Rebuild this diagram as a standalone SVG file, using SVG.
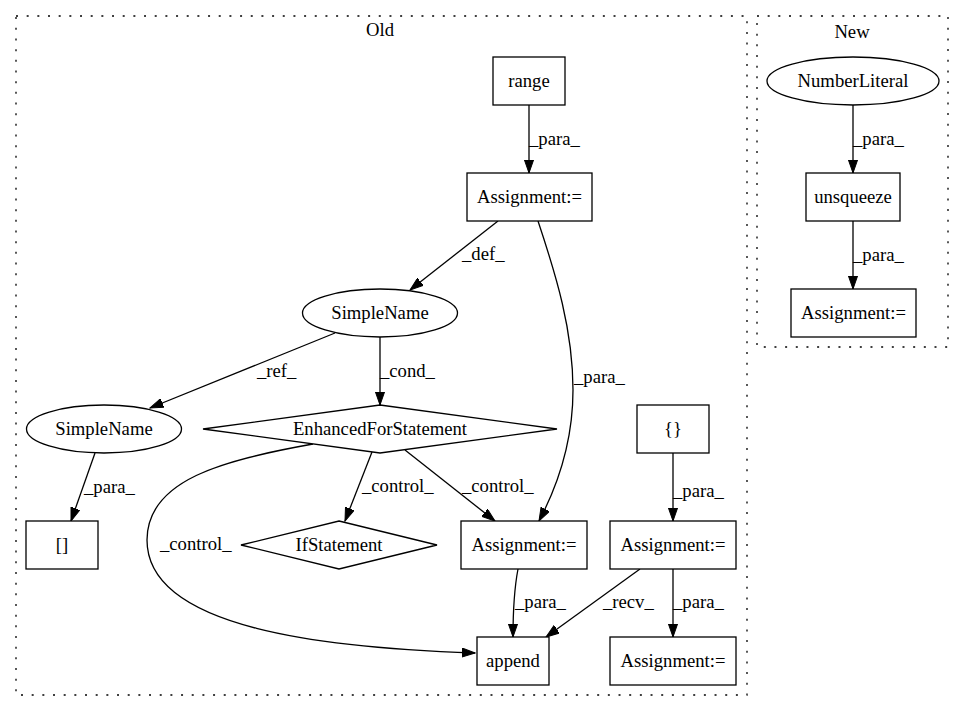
<svg xmlns="http://www.w3.org/2000/svg" width="965" height="712" viewBox="0 0 965 712">
<style>
text { font-family: "Liberation Serif", "Times New Roman", serif; font-size: 18.67px; fill: #000; }
.c { text-anchor: middle; }
.n { fill: #fff; stroke: #000; stroke-width: 1.3; }
.e { fill: none; stroke: #000; stroke-width: 1.3; marker-end: url(#ah); }
.cl { fill: none; stroke: #000; stroke-width: 1.3; stroke-dasharray: 2 8.67; }
</style>
<defs>
<marker id="ah" viewBox="0 0 14 10" refX="13.3" refY="5" markerWidth="14" markerHeight="10" markerUnits="userSpaceOnUse" orient="auto">
<path d="M0,0.33 L13.3,5 L0,9.67 z" fill="#000" stroke="#000" stroke-width="1"/>
</marker>
</defs>
<rect width="965" height="712" fill="#fff"/>
<g id="cluster_old">
<rect class="cl" x="16" y="16" width="731" height="679"/>
<text class="c" x="380" y="36">Old</text>
</g>
<g id="cluster_new">
<rect class="cl" x="757" y="16" width="191" height="331"/>
<text class="c" x="852" y="38">New</text>
</g>
<g id="edges">
<path class="e" d="M529,105 L529,173"/>
<text x="529" y="145">_para_</text>
<path class="e" d="M498,221 L410,290"/>
<text x="462" y="260">_def_</text>
<path class="e" d="M538,221 C556,275 573,330 573,390 C573,440 558,485 539,521"/>
<text x="574" y="383">_para_</text>
<path class="e" d="M335,333 L150,408"/>
<text x="257" y="377">_ref_</text>
<path class="e" d="M380,337 L380,405"/>
<text x="380" y="377">_cond_</text>
<path class="e" d="M95,453 L71,521"/>
<text x="84" y="493">_para_</text>
<path class="e" d="M372,452 L345,521"/>
<text x="362" y="492">_control_</text>
<path class="e" d="M405,450 L495,521"/>
<text x="462" y="492">_control_</text>
<path class="e" d="M313,444 C223,460 147,480 147,540 C147,630 330,648 475,653"/>
<text x="160" y="550">_control_</text>
<path class="e" d="M673,453 L673,521"/>
<text x="673" y="497">_para_</text>
<path class="e" d="M518,569 C514,590 513,615 513,637"/>
<text x="515" y="608">_para_</text>
<path class="e" d="M640,569 L546,637"/>
<text x="603" y="608">_recv_</text>
<path class="e" d="M673,569 L673,637"/>
<text x="673" y="608">_para_</text>
<path class="e" d="M853,105 L853,173"/>
<text x="853" y="145">_para_</text>
<path class="e" d="M853,221 L853,289"/>
<text x="853" y="261">_para_</text>
</g>
<g id="range"><rect class="n" x="493" y="57" width="72" height="48"/><text class="c" x="529" y="87">range</text></g>
<g id="assign_top"><rect class="n" x="467" y="173" width="125" height="48"/><text class="c" x="529.5" y="203">Assignment:=</text></g>
<g id="simplename_top"><ellipse class="n" cx="380" cy="313" rx="77.5" ry="24"/><text class="c" x="380" y="319">SimpleName</text></g>
<g id="simplename_left"><ellipse class="n" cx="104" cy="429" rx="77.5" ry="24"/><text class="c" x="104" y="435">SimpleName</text></g>
<g id="enhanced_for"><polygon class="n" points="380,405 557,429 380,453 203,429"/><text class="c" x="380" y="435">EnhancedForStatement</text></g>
<g id="index"><rect class="n" x="26" y="521" width="72" height="48"/><text class="c" x="62" y="551">[]</text></g>
<g id="if_statement"><polygon class="n" points="339,521 437,545 339,569 241,545"/><text class="c" x="339" y="551">IfStatement</text></g>
<g id="assign_mid"><rect class="n" x="461" y="521" width="126" height="48"/><text class="c" x="524" y="551">Assignment:=</text></g>
<g id="braces"><rect class="n" x="637" y="405" width="72" height="48"/><text class="c" x="673" y="435">{}</text></g>
<g id="assign_right"><rect class="n" x="610" y="521" width="126" height="48"/><text class="c" x="673" y="551">Assignment:=</text></g>
<g id="append"><rect class="n" x="477" y="637" width="72" height="48"/><text class="c" x="513" y="667">append</text></g>
<g id="assign_bottom"><rect class="n" x="610" y="637" width="126" height="48"/><text class="c" x="673" y="667">Assignment:=</text></g>
<g id="number_literal"><ellipse class="n" cx="853" cy="81" rx="86" ry="24"/><text class="c" x="853" y="87">NumberLiteral</text></g>
<g id="unsqueeze"><rect class="n" x="806" y="173" width="94" height="48"/><text class="c" x="853" y="203">unsqueeze</text></g>
<g id="assign_new"><rect class="n" x="791" y="289" width="125" height="48"/><text class="c" x="853.5" y="319">Assignment:=</text></g>
</svg>
